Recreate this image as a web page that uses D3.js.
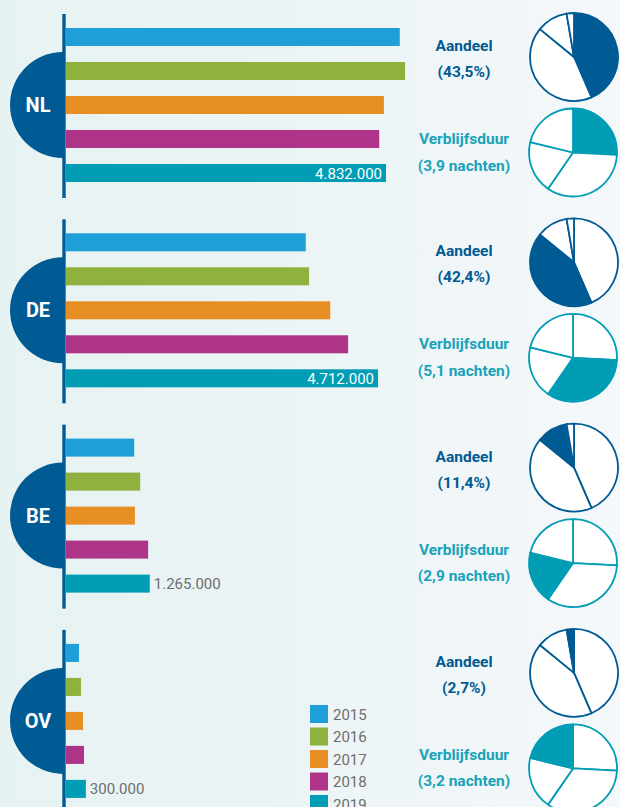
<!DOCTYPE html>
<html>
<head>
<meta charset="utf-8">
<script src="https://cdn.jsdelivr.net/npm/d3@7"></script>
<style>
    html, body { margin: 0; padding: 0; overflow: hidden; }
    body { width: 620px; height: 807px; font-family: Roboto, "DejaVu Sans", sans-serif; }
</style>
</head>
<body>
<script>
// DATA
var years = ['2015', '2016', '2017', '2018', '2019'];
var countries = ['NL', 'DE', 'BE', 'OV'];
var nlVisitors = [5040000, 5120000, 4800000, 4730000, 4832000];
var deVisitors = [3620000, 3670000, 3990000, 4260000, 4712000];
var beVisitors = [1030000, 1120000, 1040000, 1240000, 1265000];
var ovVisitors = [196000, 226000, 257000, 272000, 300000];
var shares = [43.5, 42.4, 11.4, 2.7];      // aandeel in %
var stays = [3.9, 5.1, 2.9, 3.2];          // verblijfsduur in nachten
var shareTitle = 'Aandeel';
var stayTitle = 'Verblijfsduur';

window.CHART = {
    init: function () {
        var self = this;

        // PROPERTIES
        self.width = 620;
        self.height = 807;
        self.groupStep = 205.3;
        self.yearColors = ['#1e9fd8', '#8fb13d', '#e78f24', '#ad3489', '#009db5'];
        self.darkBlue = '#005a93';
        self.teal = '#009db5';
        self.grey = '#6e6e6e';
        self.nl = d3.formatLocale({decimal: ',', thousands: '.', grouping: [3], currency: ['€', '']});

        self.svg = d3.select('body').append('svg')
            .attr('width', self.width)
            .attr('height', self.height);

        self.rows = [nlVisitors, deVisitors, beVisitors, ovVisitors];

        self.drawBackground();
        self.drawBars();
        self.drawPies();
        self.drawLegend();
    },
    drawBackground: function () {
        var self = this,
            grad = self.svg.append('defs').append('linearGradient')
                .attr('id', 'bg').attr('x1', 0).attr('x2', 1).attr('y1', 0).attr('y2', 0);

        grad.append('stop').attr('offset', 0).attr('stop-color', '#e7f2f3');
        grad.append('stop').attr('offset', 0.45).attr('stop-color', '#ebf4f5');
        grad.append('stop').attr('offset', 1).attr('stop-color', '#f5f8fa');

        self.svg.append('rect')
            .attr('width', self.width)
            .attr('height', self.height)
            .attr('fill', 'url(#bg)');
    },
    drawBars: function () {
        var self = this,
            x, y, color, groups;

        x = d3.scaleLinear().domain([0, 4832000]).range([66, 386]);
        y = d3.scaleBand().domain(years).range([0, 170]).paddingInner(0.47).paddingOuter(0.235);
        color = d3.scaleOrdinal().domain(years).range(self.yearColors);
        self.color = color;

        groups = self.svg.selectAll('g.country').data(countries).enter().append('g')
            .attr('class', 'country')
            .attr('transform', function (d, i) { return 'translate(0,' + (20 + i * self.groupStep) + ')'; });

        // circle with country code
        groups.append('path')
            .attr('d', d3.arc().innerRadius(0).outerRadius(53).startAngle(Math.PI).endAngle(2 * Math.PI))
            .attr('transform', 'translate(63,' + (y('2017') + y.bandwidth() / 2) + ')')
            .attr('fill', self.darkBlue);

        groups.append('text')
            .attr('x', 38)
            .attr('y', y('2017') + y.bandwidth() / 2 + 7)
            .attr('text-anchor', 'middle')
            .attr('fill', '#fff')
            .attr('font-size', 20)
            .attr('font-weight', 'bold')
            .text(function (d) { return d; });

        // vertical axis line
        groups.append('line')
            .attr('x1', 64).attr('x2', 64)
            .attr('y1', -6).attr('y2', 178)
            .attr('stroke', self.darkBlue)
            .attr('stroke-width', 3.4);

        groups.each(function (c, i) {
            var g = d3.select(this),
                values = self.rows[i],
                last = values[values.length - 1],
                inside = x(last) - x(0) > 100,
                label = self.nl.format(',')(last);

            g.selectAll('rect.bar').data(values).enter().append('rect')
                .attr('class', 'bar')
                .attr('x', x(0))
                .attr('y', function (d, j) { return y(years[j]); })
                .attr('width', function (d) { return x(d) - x(0); })
                .attr('height', y.bandwidth())
                .attr('fill', function (d, j) { return color(years[j]); });

            g.append('text')
                .attr('x', inside ? x(last) - 4 : x(last) + 4)
                .attr('y', y('2019') + y.bandwidth() / 2 + 5.5)
                .attr('text-anchor', inside ? 'end' : 'start')
                .attr('fill', inside ? '#fff' : self.grey)
                .attr('font-size', 15)
                .text(label);
        });
    },
    drawPies: function () {
        var self = this,
            pie = d3.pie().sort(null).value(function (d) { return d; }),
            arc = d3.arc().innerRadius(0).outerRadius(44),
            fmt = self.nl.format('.1f'),
            shareArcs = pie(shares),
            stayArcs = pie(stays);

        countries.forEach(function (c, i) {
            var off = i * self.groupStep,
                g = self.svg.append('g');

            // Aandeel
            g.append('g')
                .attr('transform', 'translate(574,' + (57 + off) + ')')
                .selectAll('path').data(shareArcs).enter().append('path')
                .attr('d', arc)
                .attr('fill', function (d, j) { return j === i ? self.darkBlue : '#fff'; })
                .attr('stroke', self.darkBlue)
                .attr('stroke-width', 1.8)
                .attr('stroke-linejoin', 'round');

            g.append('text')
                .attr('x', 464).attr('y', 51 + off)
                .attr('text-anchor', 'middle')
                .attr('fill', self.darkBlue)
                .attr('font-size', 15.5).attr('font-weight', 'bold')
                .text(shareTitle);

            g.append('text')
                .attr('x', 464).attr('y', 77 + off)
                .attr('text-anchor', 'middle')
                .attr('fill', self.darkBlue)
                .attr('font-size', 15.5).attr('font-weight', 'bold')
                .text('(' + fmt(shares[i]) + '%)');

            // Verblijfsduur
            g.append('g')
                .attr('transform', 'translate(573,' + (152.5 + off) + ')')
                .selectAll('path').data(stayArcs).enter().append('path')
                .attr('d', arc)
                .attr('fill', function (d, j) { return j === i ? self.teal : '#fff'; })
                .attr('stroke', self.teal)
                .attr('stroke-width', 1.8)
                .attr('stroke-linejoin', 'round');

            g.append('text')
                .attr('x', 464).attr('y', 144 + off)
                .attr('text-anchor', 'middle')
                .attr('fill', '#1aa2b9')
                .attr('font-size', 15.5).attr('font-weight', 'bold')
                .text(stayTitle);

            g.append('text')
                .attr('x', 464).attr('y', 170.5 + off)
                .attr('text-anchor', 'middle')
                .attr('fill', '#1aa2b9')
                .attr('font-size', 15.5).attr('font-weight', 'bold')
                .text('(' + fmt(stays[i]) + ' nachten)');
        });
    },
    drawLegend: function () {
        var self = this,
            items;

        items = self.svg.append('g')
            .attr('transform', 'translate(310,705)')
            .selectAll('g').data(years).enter().append('g')
            .attr('transform', function (d, i) { return 'translate(0,' + (i * 22.5) + ')'; });

        items.append('rect')
            .attr('width', 18).attr('height', 18)
            .attr('fill', function (d) { return self.color(d); });

        items.append('text')
            .attr('x', 23).attr('y', 14.5)
            .attr('fill', self.grey)
            .attr('font-size', 15)
            .text(function (d) { return d; });
    }
};

CHART.init();
</script>
</body>
</html>
